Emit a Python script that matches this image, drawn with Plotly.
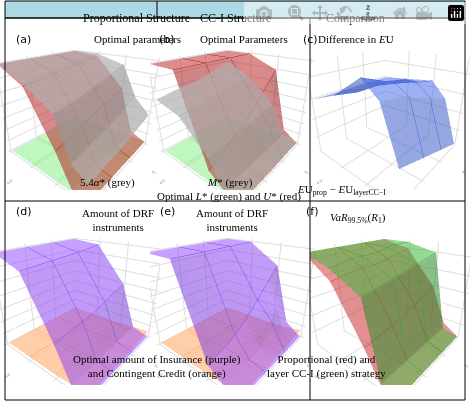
import plotly.graph_objects as go

# grid of the sensitivity study
rho2 = [0.0, 0.075, 0.15, 0.225, 0.3]
gamma = [0.2, 0.25, 0.3, 0.325, 0.35]

# (a) proportional structure: rows = gamma, cols = rho2
u_prop = [[70, 70, 70, 70, 70],
          [68, 66, 64, 62, 60],
          [45, 40, 35, 30, 25],
          [8, 6, 5, 4, 3],
          [3, 2, 2, 1, 1]]
alpha_prop = [[70, 70, 70, 70, 70],
              [70, 68, 66, 64, 62],
              [64, 60, 56, 52, 50],
              [40, 35, 30, 26, 22],
              [28, 24, 20, 18, 15]]
l_prop = [[1, 1, 1, 1, 1],
          [1, 1, 1, 1, 1],
          [2, 2, 1, 1, 1],
          [3, 2, 2, 1, 1],
          [4, 3, 2, 2, 1]]

# (b) CC-I structure
u_cc = [[70, 70, 70, 70, 70],
        [70, 70, 70, 70, 70],
        [60, 45, 30, 20, 10],
        [10, 30, 5, 3, 2],
        [2, 2, 1, 1, 1]]
m_cc = [[60, 55, 50, 48, 45],
        [50, 48, 45, 42, 40],
        [30, 28, 25, 22, 20],
        [5, 4, 3, 3, 2],
        [2, 2, 1, 1, 1]]
l_cc = [[1, 1, 1, 1, 1],
        [1, 1, 1, 1, 1],
        [1, 1, 1, 1, 1],
        [2, 2, 1, 1, 1],
        [3, 2, 2, 1, 1]]

# (c) difference in EU
eu_diff = [[0, 0, 0, 0, 0],
           [1, 1, 2, 2, 3],
           [2, 3, 5, 6, 8],
           [-2, 0, 2, 4, 5],
           [-14, -12, -10, -8, -6]]

# (d), (e) amount of insurance / contingent credit
ins_prop = [[70, 70, 70, 70, 70],
            [68, 66, 65, 64, 63],
            [40, 35, 30, 28, 25],
            [5, 4, 3, 2, 2],
            [1, 1, 1, 1, 1]]
cc_prop = [[2, 2, 2, 2, 2],
           [3, 3, 2, 2, 2],
           [4, 4, 3, 3, 2],
           [5, 4, 4, 3, 3],
           [6, 5, 4, 4, 3]]
ins_cc = [[70, 70, 70, 70, 70],
          [70, 70, 70, 70, 70],
          [55, 40, 25, 15, 10],
          [10, 30, 5, 3, 2],
          [1, 1, 1, 1, 1]]
cc_cc = [[2, 2, 2, 2, 2],
         [3, 3, 2, 2, 2],
         [4, 4, 3, 3, 2],
         [5, 5, 4, 3, 3],
         [7, 6, 5, 4, 3]]

# (f) VaR 99.5% of R1
var_prop = [[28.7, 28.7, 28.7, 28.7, 28.7],
            [28.5, 28.4, 28.3, 28.3, 28.2],
            [27.5, 27.3, 27.1, 27.0, 26.9],
            [26.4, 26.3, 26.2, 26.2, 26.1],
            [26.1, 26.1, 26.1, 26.1, 26.1]]
var_cc = [[28.7, 28.7, 28.7, 28.7, 28.7],
          [28.7, 28.7, 28.6, 28.6, 28.5],
          [28.5, 28.4, 28.3, 28.2, 28.1],
          [26.2, 26.2, 26.2, 26.2, 26.2],
          [26.1, 26.1, 26.1, 26.1, 26.1]]


def surf(z, color, scene, opacity=0.55):
    return go.Surface(x=rho2, y=gamma, z=z, scene=scene, opacity=opacity,
                      colorscale=[[0, color], [1, color]], showscale=False,
                      contours=dict(x=dict(show=True, color=color, width=1),
                                    y=dict(show=True, color=color, width=1)),
                      hoverinfo="skip")


fig = go.Figure()
fig.add_trace(surf(l_prop, "#7fe07f", "scene"))
fig.add_trace(surf(u_prop, "#b22222", "scene"))
fig.add_trace(surf(alpha_prop, "#a0a0a0", "scene", 0.7))
fig.add_trace(surf(l_cc, "#7fe07f", "scene2"))
fig.add_trace(surf(u_cc, "#b22222", "scene2"))
fig.add_trace(surf(m_cc, "#a0a0a0", "scene2", 0.7))
fig.add_trace(surf(eu_diff, "#4466dd", "scene3"))
fig.add_trace(surf(cc_prop, "#ff9955", "scene4"))
fig.add_trace(surf(ins_prop, "#8844ee", "scene4"))
fig.add_trace(surf(cc_cc, "#ff9955", "scene5"))
fig.add_trace(surf(ins_cc, "#8844ee", "scene5"))
fig.add_trace(surf(var_prop, "#cc3333", "scene6"))
fig.add_trace(surf(var_cc, "#33aa33", "scene6"))

ax = dict(tickfont=dict(size=6, color="#555"), title_font=dict(size=6, color="#555"),
          showbackground=False, gridcolor="#ddd", zeroline=False)
ztitles = ["Values of L, alpha, U", "Values of L, M, U", "Difference in EU",
           "Amount of Insurance/ CC", "Amount of Insurance/ CC", "VaR values"]
cols = [(0.0, 0.34), (0.32, 0.67), (0.66, 1.0)]
rows = [(0.53, 0.93), (0.05, 0.47)]
layout_scenes = {}
for i in range(6):
    r, c = divmod(i, 3)
    name = "scene" if i == 0 else f"scene{i + 1}"
    layout_scenes[name] = dict(
        domain=dict(x=list(cols[c]), y=list(rows[r])),
        xaxis=dict(ax, title="rho2", tickvals=[0.1, 0.2, 0.3]),
        yaxis=dict(ax, title="gamma", tickvals=[0.25, 0.3, 0.35]),
        zaxis=dict(ax, title=ztitles[i]),
        camera=dict(eye=dict(x=1.25, y=1.05, z=0.75)),
        aspectmode="manual", aspectratio=dict(x=1, y=1, z=0.9))
fig.update_layout(**layout_scenes)

serif = "Liberation Serif"
notes = [
    (81, 9, "Proportional Structure", 12), (235, 9, "CC-I Structure", 12), (387, 9, "Comparison", 12),
    (92, 31, "Optimal parameters", 11), (244, 31, "Optimal Parameters", 11), (396, 31, "Difference in <i>E</i>U", 11),
    (78, 182, "5.4<i>α</i>* (grey)", 11), (230, 182, "<i>M</i>* (grey)", 11),
    (155, 196, "Optimal <i>L</i>* (green) and <i>U</i>* (red)", 11),
    (388, 190, "<i>E</i>U<sub>prop</sub> − <i>E</i>U<sub>layerCC−I</sub>", 11),
    (80, 220, "Amount of DRF<br>instruments", 11), (232, 220, "Amount of DRF<br>instruments", 11),
    (388, 218, "<i>VaR</i><sub>99.5%</sub>(<i>R</i><sub>1</sub>)", 11),
    (157, 382, "Optimal amount of Insurance (purple)<br>and Contingent Credit (orange)", 11),
    (388, 382, "Proportional (red) and<br>layer CC-I (green) strategy", 11),
]
ann = [dict(x=x, y=y, xref="paper", yref="paper", text=t, showarrow=False,
            font=dict(family=serif, size=s, color="black")) for x, y, t, s in notes]
for x, y, t in [(14, 31, "(a)"), (167, 31, "(b)"), (320, 31, "(c)"),
                (14, 211, "(d)"), (167, 211, "(e)"), (320, 211, "(f)")]:
    ann.append(dict(x=x, y=y, xref="paper", yref="paper", text=t, showarrow=False,
                    font=dict(family="DejaVu Sans", size=11, color="black")))

W, H = 470, 405
for a in ann:
    a["x"] = a["x"] / W
    a["y"] = 1 - a["y"] / H

def px(x0, y0, x1, y1, **kw):
    return dict(type=kw.pop("type", "line"), xref="paper", yref="paper",
                x0=x0 / W, x1=x1 / W, y0=1 - y0 / H, y1=1 - y1 / H, **kw)

shapes = [
    px(5, 1, 465, 18, type="rect", fillcolor="#add8e6", line=dict(color="black", width=1), layer="below"),
    px(157, 1, 157, 18, line=dict(color="black", width=1)),
    px(5, 18, 465, 400, type="rect", line=dict(color="black", width=1)),
    px(310, 18, 310, 400, line=dict(color="black", width=1)),
    px(5, 201, 465, 201, line=dict(color="black", width=1)),
]

fig.update_layout(width=W, height=H, margin=dict(l=0, r=0, t=0, b=0),
                  paper_bgcolor="white", showlegend=False,
                  annotations=ann, shapes=shapes)
fig.write_html("out.html", post_script="document.body.style.margin='0';")
